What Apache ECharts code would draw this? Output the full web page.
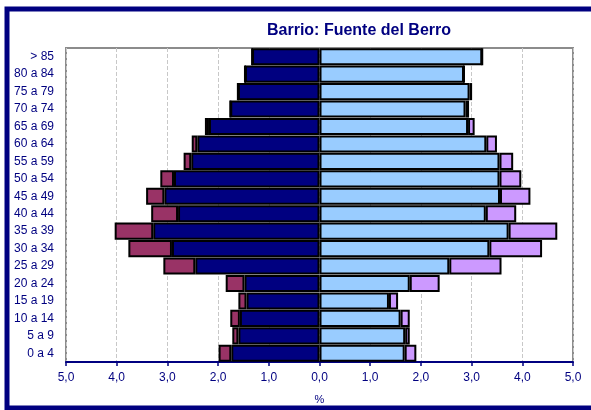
<!DOCTYPE html>
<html>
<head>
<meta charset="utf-8">
<script src="https://cdn.jsdelivr.net/npm/echarts@6/dist/echarts.min.js"></script>
<style>
  html, body { margin: 0; padding: 0; background: #fff; }
  #chart { width: 591px; height: 410px; }
</style>
</head>
<body>
<div id="chart"></div>
<script>
// age groups, bottom to top
var ageGroups = ['0 a 4', '5 a 9', '10 a 14', '15 a 19', '20 a 24', '25 a 29', '30 a 34', '35 a 39',
  '40 a 44', '45 a 49', '50 a 54', '55 a 59', '60 a 64', '65 a 69', '70 a 74', '75 a 79', '80 a 84', '> 85'];
// % of population
var menSpanish   = [1.74, 1.60, 1.57, 1.44, 1.48, 2.45, 2.91, 3.28, 2.79, 3.06, 2.87, 2.53, 2.41, 2.18, 1.76, 1.61, 1.47, 1.33];
var menForeign   = [0.25, 0.12, 0.19, 0.16, 0.37, 0.63, 0.86, 0.76, 0.53, 0.36, 0.27, 0.15, 0.11, 0.08, 0, 0, 0, 0];
var womenSpanish = [1.68, 1.69, 1.60, 1.37, 1.78, 2.56, 3.35, 3.73, 3.28, 3.56, 3.55, 3.55, 3.29, 2.93, 2.88, 2.96, 2.85, 3.21];
var womenForeign = [0.23, 0.09, 0.18, 0.18, 0.59, 1.03, 1.04, 0.96, 0.60, 0.60, 0.43, 0.27, 0.21, 0.13, 0.07, 0.05, 0, 0];

var navy = '#000080';
var font = 'Liberation Sans, Arial, sans-serif';

function neg(arr) { return arr.map(function (v) { return -v; }); }

function barSeries(name, data, color) {
  return {
    name: name,
    type: 'bar',
    stack: 'pyramid',
    data: data,
    barCategoryGap: '2%',
    itemStyle: { color: color, borderColor: '#000', borderWidth: 2 },
    emphasis: { disabled: true }
  };
}

var myChart = echarts.init(document.getElementById('chart'));
var option = {
  animation: false,
  title: {
    text: 'Barrio: Fuente del Berro',
    left: 354,
    top: 18,
    textAlign: 'center',
    textStyle: { color: navy, fontSize: 16, fontWeight: 'bold', fontFamily: font }
  },
  graphic: [{
    type: 'rect',
    shape: { x: 7, y: 9, width: 600, height: 399 },
    style: { fill: 'none', stroke: navy, lineWidth: 5 },
    silent: true
  }],
  grid: {
    left: 66, right: 18, top: 48, bottom: 47,
    show: true, borderColor: '#8c8c8c', borderWidth: 2, backgroundColor: 'transparent'
  },
  xAxis: {
    type: 'value',
    min: -5, max: 5, interval: 1,
    name: '%',
    nameLocation: 'middle',
    nameGap: 32,
    nameTextStyle: { color: navy, fontSize: 11, fontFamily: font },
    axisLine: { show: true, lineStyle: { color: navy, width: 2 } },
    axisTick: { show: true, length: 4, lineStyle: { color: navy, width: 1.5 } },
    axisLabel: {
      color: navy, fontSize: 12, fontFamily: font, margin: 10,
      formatter: function (v) { return Math.abs(v).toFixed(1).replace('.', ','); }
    },
    splitLine: { show: true, lineStyle: { color: '#c8c8c8', type: 'dashed', width: 1 } }
  },
  yAxis: {
    type: 'category',
    data: ageGroups,
    axisLine: { show: false },
    axisTick: { show: false },
    axisLabel: { color: navy, fontSize: 12, fontFamily: font, margin: 12 }
  },
  series: [
    barSeries('Hombres', neg(menSpanish), navy),
    barSeries('Hombres extranjeros', neg(menForeign), '#993366'),
    barSeries('Mujeres', womenSpanish, '#99ccff'),
    barSeries('Mujeres extranjeras', womenForeign, '#cc99ff')
  ]
};
myChart.setOption(option);
</script>
</body>
</html>
